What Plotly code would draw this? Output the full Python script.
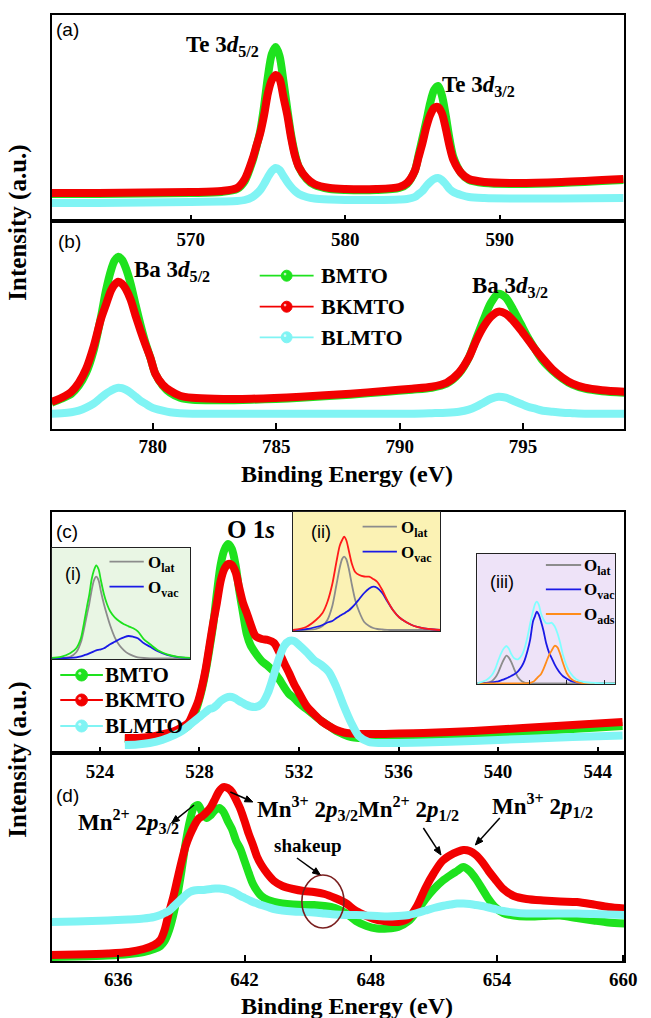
import math
import plotly.graph_objects as go

# ---------------- data ----------------
# (a) Te 3d
a_be = [561, 564, 567, 570, 572, 573, 573.5, 574, 574.25, 574.5, 574.75, 575, 575.25, 575.5, 575.75,
        576, 576.25, 576.5, 576.75, 577, 577.5, 578, 579, 580, 582, 583.5, 584, 584.5, 584.75, 585,
        585.25, 585.5, 585.75, 586, 586.25, 586.5, 586.75, 587, 587.5, 588, 589, 591, 594, 598]
a_bmto = [27, 27, 27.5, 28, 29, 32, 40, 60, 74, 90, 115, 145, 167, 174, 165, 140, 112, 86, 67, 54, 42,
          36, 32, 31, 31, 33, 37, 50, 66, 83, 100, 118, 131, 135, 126, 106, 82, 64, 48, 41, 38, 37, 38, 41]
a_bkmto = [28, 28, 28.5, 29, 30, 33, 42, 62, 75, 88, 106, 128, 141, 146, 142, 124, 106, 83, 65, 54, 43,
           37, 33, 32, 32, 34, 38, 50, 64, 78, 94, 106, 113, 114, 108, 93, 75, 61, 48, 42, 39, 38, 39, 42]
a_blmto = [18, 18, 18.5, 19, 19.5, 20, 21, 24, 27, 31, 37, 44, 50, 53, 51, 45, 39, 34, 30, 27, 24,
           22.5, 21.5, 21, 21, 21.5, 22, 24, 27, 30, 35, 39, 42, 43, 41, 37, 32, 29, 26, 24, 23, 22.5, 22.5, 23]

# (b) Ba 3d
b_be = [775.9, 776.3, 776.7, 777.0, 777.3, 777.6, 777.9, 778.1, 778.3, 778.45, 778.6, 778.75, 778.9,
        779.1, 779.3, 779.5, 779.7, 779.9, 780.1, 780.4, 780.7, 781.1, 781.6, 782.5, 784, 786, 788,
        789.5, 790.5, 791.3, 791.9, 792.4, 792.8, 793.1, 793.4, 793.7, 794.0, 794.3, 794.6, 794.9,
        795.2, 795.5, 795.8, 796.2, 796.6, 797.0, 797.5, 798.2, 799.1]
b_bmto = [26, 30, 35, 43, 56, 78, 112, 138, 158, 168, 172, 169, 161, 145, 124, 104, 86, 71, 55, 43,
          36, 31, 29, 28.5, 29, 31, 34, 37, 39, 41, 45, 55, 71, 90, 109, 126, 135, 131, 119, 105,
          91, 79, 68, 58, 50, 44, 40, 37.5, 36]
b_bkmto = [27, 31, 37, 46, 60, 82, 110, 124, 138, 144, 147, 145, 140, 129, 113, 98, 84, 71, 55, 44,
           38, 33, 31, 30, 30, 32, 35, 38, 40, 42, 46, 56, 71, 88, 102, 112, 117, 115, 108, 99,
           89, 79, 70, 59, 51, 45, 41, 38.5, 37]
b_blmto = [15, 15.5, 16.5, 18, 21, 25, 31, 35, 38, 40, 41, 40.5, 39, 36, 32, 28, 25, 22, 20, 18,
           16.5, 15.5, 15, 15, 15, 15, 15, 15, 15, 15.5, 16, 17, 19, 22, 26, 30, 32, 31, 28, 25,
           22, 20, 18, 17, 16, 15.5, 15, 15, 15]

# (c) O 1s
c_be = [525.0, 525.5, 526.0, 526.5, 527.0, 527.3, 527.55, 527.75, 527.95, 528.1, 528.25, 528.4, 528.55,
        528.7, 528.85, 529.0, 529.15, 529.3, 529.45, 529.6, 529.75, 529.9, 530.05, 530.25, 530.5,
        530.75, 531.0, 531.2, 531.4, 531.6, 531.8, 532.0, 532.3, 532.6, 532.9, 533.2, 533.5, 533.8,
        534.1, 534.4, 534.8, 535.3, 536, 537, 539, 541, 543, 545]
c_bmto = [14, 14, 15, 17, 20, 23, 27, 35, 50, 64, 82, 104, 128, 160, 188, 203, 209, 204, 188, 162,
          140, 119, 108, 100, 92, 87, 81, 74, 66, 59, 55, 50, 44, 38, 32, 27, 22, 18.5, 16, 15, 14.5,
          14.5, 15, 16, 18, 21, 24, 27]
c_bkmto = [15, 15, 16, 18.5, 22, 26, 30, 40, 52, 66, 84, 107, 130, 150, 172, 184, 189, 188, 181, 165,
           150, 140, 129, 117, 114, 113, 110, 101, 90, 80, 69, 60, 47, 39, 32, 27, 23, 20.5, 19.5, 19,
           19, 19, 19.5, 20, 22, 25, 28, 31]
c_blmto = [8, 8.5, 10, 13, 18, 22, 27, 31, 35, 38, 41, 44, 45, 48, 52, 54.5, 56, 56, 54.5, 52, 50,
           48, 46.5, 46, 49, 60, 79, 95, 107, 112, 112, 108, 101, 93, 88, 81, 66, 47, 30, 17, 11,
           10, 10, 10.5, 12, 14, 16, 17.5]

# (d) Mn 2p
d_be = [632.8, 634, 635.5, 636.5, 637.2, 637.7, 638.0, 638.2, 638.4, 638.6, 638.8, 639.0, 639.2, 639.4,
        639.6, 639.8, 640.0, 640.2, 640.4, 640.6, 640.8, 641.0, 641.2, 641.4, 641.6, 641.8, 642.0,
        642.2, 642.4, 642.6, 642.8, 643.1, 643.4, 643.8, 644.3, 644.8, 645.3, 645.8, 646.3, 646.8,
        647.3, 647.8, 648.3, 648.8, 649.3, 649.8, 650.2, 650.6, 651.0, 651.4, 651.8, 652.1, 652.4,
        652.7, 653.0, 653.3, 653.6, 653.9, 654.3, 654.8, 655.4, 656.2, 657.0, 657.8, 658.6, 659.3, 660.05]
d_bmto = [4, 4.5, 5.5, 7, 9, 12, 15, 20, 30, 45, 65, 90, 118, 140, 154, 156, 148, 143, 146, 151, 153,
          149, 140, 132, 120, 112, 100, 88, 77, 70, 65, 61, 59, 57.5, 56.5, 56, 56, 55, 53, 48, 40, 35,
          32.5, 32.5, 34, 40, 50, 62, 72, 80, 86, 90, 94, 90, 82, 72, 62, 54, 48, 45.5, 44.5, 45,
          45.5, 43, 40.5, 38.5, 37.5]
d_bkmto = [6, 6.5, 7.5, 9, 12, 16, 21, 31, 48, 63, 81, 99, 115, 126, 135, 142, 145, 149, 154, 162, 170,
           174, 173, 169, 161, 152, 140, 127, 116, 104, 96, 87, 80, 75, 72, 70, 69, 67, 63, 58, 50, 45,
           41, 39.5, 39, 43, 55, 73, 88, 100, 106, 109, 111, 110, 106, 99, 90, 82, 72, 65, 62, 60.5,
           59.5, 59, 56.5, 54, 52.5]
d_blmto = [39, 39.5, 40.5, 41.5, 42.5, 44, 46, 48, 50, 54, 58, 62, 66, 69, 70.5, 71, 71, 71.5, 72, 72.5,
           72.5, 72, 71, 69.5, 67.5, 65, 63, 61, 59, 57.5, 56, 54, 52, 50.5, 49.5, 49, 48.5, 47.5, 46.5,
           46, 46, 45.5, 45, 44.5, 45, 46, 48, 50.5, 53, 55, 56.5, 57.5, 57.5, 57, 56, 55, 53.5, 52,
           50, 48.5, 47.5, 47.5, 47.5, 47.5, 47, 46.5, 46]

# inset (i): BMTO O 1s fit
i_be = [526.0, 526.6, 527.2, 527.6, 527.9, 528.1, 528.3, 528.45, 528.6, 528.75, 528.9, 529.05, 529.2,
        529.4, 529.6, 529.8, 530.1, 530.4, 530.7, 531.0, 531.3, 531.6, 532.0, 532.4, 532.9, 533.5,
        534.2, 535.0]
i_sum = [0.5, 1.5, 5, 10, 20, 35, 52, 64, 79, 88, 93, 89, 78, 64, 54, 47, 41, 37, 34, 32, 30, 27, 19,
         14, 8, 4, 1.5, 0.5]
i_lat = [0, 0.3, 1.5, 6, 16, 29, 44, 55, 68, 78, 81.6, 78, 67, 54, 43, 33, 21, 13, 8, 4.5, 2.5, 1,
         0.3, 0, 0, 0, 0, 0]
i_vac = [0, 0.2, 0.5, 1, 2, 3, 4, 5, 6, 7, 8, 8.5, 9, 10, 12, 14, 16.5, 19, 21, 22.3, 21.5, 20, 15,
         11.5, 7, 3.5, 1.2, 0.3]

# inset (ii): BKMTO O 1s fit
ii_be = [526.0, 526.8, 527.4, 527.8, 528.1, 528.4, 528.65, 528.85, 529.0, 529.12, 529.25, 529.4, 529.6,
         529.8, 530.05, 530.35, 530.65, 530.9, 531.15, 531.45, 531.75, 532.1, 532.5, 532.9, 533.4,
         534.0, 534.6, 535.0]
ii_sum = [0, 3, 10, 17, 28, 46, 68, 84, 90, 93.3, 90, 80, 66, 58, 55, 53.5, 53.3, 51, 48, 40, 30, 20,
          12.5, 8, 4, 1.7, 0.5, 0]
ii_lat = [0, 0.2, 1, 4, 10, 24, 45, 62, 71, 73.3, 71, 62, 45, 30, 18, 8, 4, 2, 1, 0.5, 0.2, 0, 0, 0,
          0, 0, 0, 0]
ii_vac = [0, 0.8, 3, 5, 7.5, 9, 12, 14, 15.5, 16.5, 18, 19.5, 22.5, 26, 31, 37, 41.5, 43.3, 42, 37,
          29, 20, 12.5, 8, 4, 1.7, 0.5, 0]

# inset (iii): BLMTO O 1s fit
iii_be = [527.23, 527.7, 528.0, 528.2, 528.35, 528.5, 528.65, 528.78, 528.9, 529.05, 529.2, 529.4,
          529.6, 529.75, 529.9, 530.05, 530.2, 530.3, 530.4, 530.5, 530.62, 530.75, 530.9, 531.05,
          531.2, 531.35, 531.5, 531.65, 531.8, 532.0, 532.2, 532.5, 532.9, 533.5, 534.59]
iii_sum = [0, 3, 8, 15, 23, 30, 35, 37.3, 35, 29, 25, 24, 28, 35, 46, 60, 72, 79, 81.6, 79, 70, 64,
           60, 60, 60.5, 57, 50, 40, 28, 17, 10, 4, 1.3, 0.3, 0]
iii_lat = [0, 0.5, 2, 6, 11, 18, 24, 27.6, 26, 21, 14, 6, 2, 0.8, 0.3, 0, 0, 0, 0, 0, 0, 0, 0, 0, 0,
           0, 0, 0, 0, 0, 0, 0, 0, 0, 0]
iii_vac = [0, 0.4, 1, 1.5, 2, 3, 4, 5, 6, 7.5, 9, 12, 17, 23, 32, 44, 62, 67, 71.6, 69, 62, 53, 40,
           31, 25, 19, 14, 10, 7, 4.5, 2.5, 1, 0.3, 0, 0]
iii_ads = [0, 0, 0, 0, 0, 0, 0, 0, 0, 0, 0, 0, 0, 0, 0, 0.5, 1.5, 3, 5, 7, 9, 14, 21, 28, 33, 37.5,
           36, 29, 20, 10, 5, 1.5, 0, 0, 0]

samples = ["BMTO", "BKMTO", "BLMTO"]
tick_a = [570, 580, 590]
tick_b = [780, 785, 790, 795]
tick_c = [524, 528, 532, 536, 540, 544]
tick_d = [636, 642, 648, 654, 660]
tick_iii = [530, 532, 534]

# ---------------- styling ----------------
W, H = 651, 1018
SERIF = "Liberation Serif"
SANS = "Liberation Sans"
COL = {"BMTO": "#1ee21e", "BKMTO": "#f20000", "BLMTO": "#80f4f4"}
GRAY, BLUE, ORANGE = "#8c8c8c", "#1a1ae6", "#ff8c1a"
L, R = 52.7, 637.0


def X(px):
    return px / W


def Y(py):
    return 1 - py / H


fig = go.Figure()

panels = [
    ("x", "y", a_be, [a_bmto, a_bkmto, a_blmto]),
    ("x2", "y2", b_be, [b_bmto, b_bkmto, b_blmto]),
    ("x3", "y3", c_be, [c_bmto, c_bkmto, c_blmto]),
    ("x4", "y4", d_be, [d_bmto, d_bkmto, d_blmto]),
]
for xa, ya, xs, series in panels:
    for name, ys in zip(samples, series):
        fig.add_trace(go.Scatter(x=xs, y=ys, xaxis=xa, yaxis=ya, name=name, mode="lines",
                                 line=dict(color=COL[name], width=8, shape="spline", smoothing=0.8),
                                 showlegend=False, hoverinfo="skip"))

insets = [
    ("x5", "y5", i_be, [(i_sum, COL["BMTO"]), (i_lat, GRAY), (i_vac, BLUE)]),
    ("x6", "y6", ii_be, [(ii_sum, "#ff1a1a"), (ii_lat, GRAY), (ii_vac, BLUE)]),
    ("x7", "y7", iii_be, [(iii_sum, "#80ffff"), (iii_lat, GRAY), (iii_vac, BLUE), (iii_ads, ORANGE)]),
]
for xa, ya, xs, curves in insets:
    order = curves[1:] + curves[:1]
    for ys, col in order:
        fig.add_trace(go.Scatter(x=xs, y=ys, xaxis=xa, yaxis=ya, mode="lines",
                                 line=dict(color=col, width=1.8, shape="spline", smoothing=0.8),
                                 showlegend=False, hoverinfo="skip"))

tickfont = dict(family=SERIF, size=19, color="black", weight="bold")
base_x = dict(showline=True, linecolor="black", linewidth=1.5, mirror=True, ticks="inside",
              ticklen=6, tickwidth=1.5, tickcolor="black", showgrid=False, zeroline=False,
              tickfont=tickfont, ticklabelstandoff=0)
base_y = dict(showline=True, linecolor="black", linewidth=1.5, mirror=True, ticks="",
              showticklabels=False, showgrid=False, zeroline=False)

lay = dict(
    xaxis=dict(base_x, domain=[X(L), X(R)], range=[561.0, 598.06], anchor="y", tickvals=tick_a),
    yaxis=dict(base_y, domain=[Y(221), Y(15)], range=[0, 206], anchor="x"),
    xaxis2=dict(base_x, domain=[X(L), X(R)], range=[775.9, 799.1], anchor="y2", tickvals=tick_b),
    yaxis2=dict(base_y, domain=[Y(428.7), Y(221)], range=[0, 207.7], anchor="x2"),
    xaxis3=dict(base_x, domain=[X(L), X(R)], range=[522.06, 545.07], anchor="y3", tickvals=tick_c),
    yaxis3=dict(base_y, domain=[Y(753), Y(512)], range=[0, 241], anchor="x3"),
    xaxis4=dict(base_x, domain=[X(L), X(R)], range=[632.83, 660.05], anchor="y4", tickvals=tick_d),
    yaxis4=dict(base_y, domain=[Y(961), Y(753)], range=[0, 208], anchor="x4"),
)
inset_ax = dict(showline=True, linecolor="#222", linewidth=1.2, mirror=True, showgrid=False,
                zeroline=False, showticklabels=False, ticks="")
lay.update(
    xaxis5=dict(inset_ax, domain=[X(L), X(194)], range=[526, 535], anchor="y5"),
    yaxis5=dict(inset_ax, domain=[Y(659.3), Y(548.3)], range=[-1, 110], anchor="x5"),
    xaxis6=dict(inset_ax, domain=[X(299), X(449.3)], range=[526, 535], anchor="y6"),
    yaxis6=dict(inset_ax, domain=[Y(631), Y(512)], range=[-1, 118], anchor="x6"),
    xaxis7=dict(inset_ax, domain=[X(487), X(628)], range=[527.23, 534.59], anchor="y7",
                ticks="inside", ticklen=4, tickwidth=1, tickcolor="#222", tickvals=tick_iii),
    yaxis7=dict(inset_ax, domain=[Y(684), Y(554)], range=[-0.7, 129.3], anchor="x7"),
)

shapes = []
for xa, ya, col in [("x5", "y5", "#e9f6e4"), ("x6", "y6", "#fbf2b4"), ("x7", "y7", "#eee3f8")]:
    shapes.append(dict(type="rect", xref=xa + " domain", yref=ya + " domain", x0=0, x1=1, y0=0, y1=1,
                       fillcolor=col, line=dict(width=0), layer="below"))

annotations = []


def text(px, py, s, size=23, family=SERIF, xanchor="left", yanchor="middle", angle=0):
    annotations.append(dict(x=X(px), y=Y(py), xref="paper", yref="paper", text=s, showarrow=False,
                            xanchor=xanchor, yanchor=yanchor, textangle=angle,
                            font=dict(family=family, size=size, color="black")))


def arrow(hx, hy, tx, ty, head=8.0, half=3.2):
    d = math.hypot(hx - tx, hy - ty)
    ux, uy = (hx - tx) / d, (hy - ty) / d
    bx, by = hx - head * ux, hy - head * uy
    shapes.append(dict(type="line", xref="paper", yref="paper", x0=X(tx), y0=Y(ty), x1=X(bx), y1=Y(by),
                       line=dict(color="black", width=1.5)))
    p1 = (bx - half * uy, by + half * ux)
    p2 = (bx + half * uy, by - half * ux)
    path = "M %.5f %.5f L %.5f %.5f L %.5f %.5f Z" % (X(hx), Y(hy), X(p1[0]), Y(p1[1]), X(p2[0]), Y(p2[1]))
    shapes.append(dict(type="path", xref="paper", yref="paper", path=path, fillcolor="black",
                       line=dict(color="black", width=1)))


def legend_item(x0, x1, cy, name, tx, size=22, r=5.5):
    shapes.append(dict(type="line", xref="paper", yref="paper", x0=X(x0), x1=X(x1), y0=Y(cy), y1=Y(cy),
                       line=dict(color=COL[name], width=1.8)))
    cx = (x0 + x1) / 2
    shapes.append(dict(type="circle", xref="paper", yref="paper", x0=X(cx - r), x1=X(cx + r),
                       y0=Y(cy + r), y1=Y(cy - r), fillcolor=COL[name],
                       line=dict(color=COL[name], width=1)))
    shapes.append(dict(type="circle", xref="paper", yref="paper", x0=X(cx - r * 0.55), x1=X(cx - r * 0.05),
                       y0=Y(cy - r * 0.05), y1=Y(cy - r * 0.55), fillcolor="rgba(255,255,255,0.7)",
                       line=dict(width=0)))
    text(tx, cy, "<b>%s</b>" % name, size=size)


def small_leg(x0, x1, cy, col, label, tx):
    shapes.append(dict(type="line", xref="paper", yref="paper", x0=X(x0), x1=X(x1), y0=Y(cy), y1=Y(cy),
                       line=dict(color=col, width=1.8)))
    text(tx, cy + 2, "<b>O<sub>%s</sub></b>" % label, size=17)


# legends
for name, cy in zip(samples, [275.7, 306.7, 337.3]):
    legend_item(265, 320, cy, name, 325, size=22)
for name, cy in zip(samples, [675, 700, 726]):
    legend_item(61.5, 105, cy, name, 105.5, size=21, r=6)

# inset legends and labels
small_leg(111.7, 146.7, 561.7, GRAY, "lat", 149)
small_leg(111.7, 146.7, 586.7, BLUE, "vac", 149)
small_leg(370, 405, 526.7, GRAY, "lat", 407)
small_leg(370, 405, 551.7, BLUE, "vac", 407)
small_leg(557, 593, 565, GRAY, "lat", 594)
small_leg(557, 593, 589.3, BLUE, "vac", 594)
small_leg(557, 593, 614, ORANGE, "ads", 594)
text(74, 574, "(i)", size=18, family=SANS, xanchor="center")
text(328, 532, "(ii)", size=18, family=SANS, xanchor="center")
text(512, 582, "(iii)", size=18, family=SANS, xanchor="center")

# panel labels
text(69, 30, "(a)", size=19, family=SANS, xanchor="center")
text(71, 242, "(b)", size=19, family=SANS, xanchor="center")
text(68, 531, "(c)", size=19, family=SANS, xanchor="center")
text(69, 795, "(d)", size=19, family=SANS, xanchor="center")

# peak labels
text(188, 46, "<b>Te 3<i>d</i><sub>5/2</sub></b>")
text(449, 86, "<b>Te 3<i>d</i><sub>3/2</sub></b>")
text(135, 271, "<b>Ba 3<i>d</i><sub>5/2</sub></b>")
text(480, 287, "<b>Ba 3<i>d</i><sub>3/2</sub></b>")
text(256, 529, "<b>O 1<i>s</i></b>", size=25, xanchor="center")
text(78, 821, "<b>Mn<sup>2+</sup> 2<i>p</i><sub>3/2</sub></b>")
text(260, 808, "<b>Mn<sup>3+</sup> 2<i>p</i><sub>3/2</sub>Mn<sup>2+</sup> 2<i>p</i><sub>1/2</sub></b>")
text(500, 805, "<b>Mn<sup>3+</sup> 2<i>p</i><sub>1/2</sub></b>")
text(314, 845, "<b>shakeup</b>", size=19, xanchor="center")

arrow(175, 823, 198, 805)
arrow(258, 802, 235, 792)
arrow(450, 855, 432, 828)
arrow(485, 845, 510, 818)
arrow(327, 875, 303, 858)
shapes.append(dict(type="circle", xref="paper", yref="paper", x0=X(308), x1=X(351), y0=Y(928), y1=Y(875),
                   line=dict(color="#7a1f1f", width=1.6)))

# axis titles
text(18, 223, "<b>Intensity (a.u.)</b>", size=25, xanchor="center", angle=-90)
text(18, 760, "<b>Intensity (a.u.)</b>", size=25, xanchor="center", angle=-90)
text(354, 474, "<b>Binding Energy (eV)</b>", size=24, xanchor="center")
text(354, 1006, "<b>Binding Energy (eV)</b>", size=24, xanchor="center")

fig.update_layout(lay)
fig.update_layout(width=W, height=H, margin=dict(l=0, r=0, t=0, b=0), paper_bgcolor="white",
                  plot_bgcolor="rgba(0,0,0,0)", showlegend=False, shapes=shapes,
                  annotations=annotations)
fig.write_html("out.html")
